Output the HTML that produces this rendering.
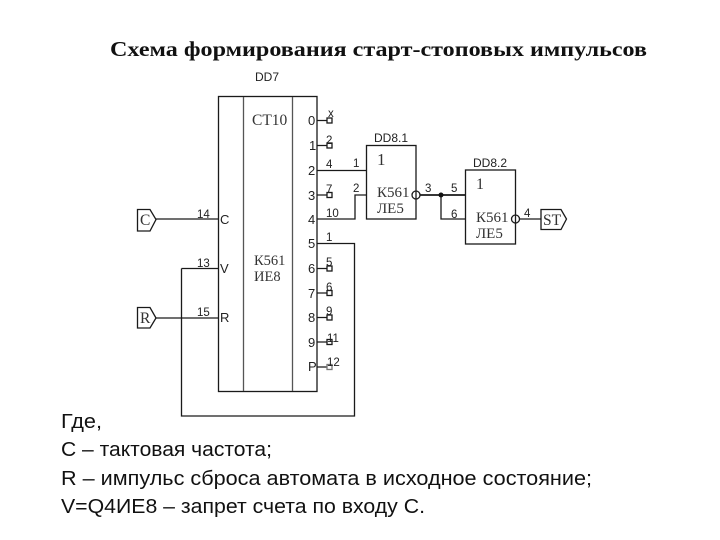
<!DOCTYPE html>
<html><head><meta charset="utf-8">
<style>html,body{margin:0;padding:0;background:#fff}svg{display:block}
.t{font-family:"Liberation Sans",sans-serif;font-size:11.5px;fill:#222}
.d{font-family:"Liberation Sans",sans-serif;font-size:12px;fill:#222}
.s{font-family:"Liberation Serif",serif;fill:#333}
.m{font-family:"Liberation Sans",sans-serif;font-size:13px;fill:#222}
</style></head><body>
<svg width="720" height="540" viewBox="0 0 720 540" xmlns="http://www.w3.org/2000/svg">
<text x="110" y="56" font-family="Liberation Serif,serif" font-weight="bold" font-size="21.5" fill="#111" textLength="537" lengthAdjust="spacingAndGlyphs">Схема формирования старт-стоповых импульсов</text>
<g fill="none" stroke="#1a1a1a" stroke-width="1.3">
<rect x="218.5" y="96.5" width="98.5" height="295"/>
<path d="M243.5 97V391M292.5 97V391" stroke="#555"/>
<path d="M156 219H218M156 318H218M181.5 268.5H218M181.5 268.5V416H354.5V243.5H317"/>
<path d="M317 170.5H366M317 219H355V195H366"/>
<path d="M317 120.5H327M317 145.5H327M317 195H327M317 268.5H327M317 293H327M317 317.5H327M317 342H327M317 367H327"/>
<rect x="327" y="118" width="5" height="5"/><rect x="327" y="143" width="5" height="5"/><rect x="327" y="192.500" width="5" height="5"/>
<rect x="327" y="266" width="5" height="5"/><rect x="327" y="290.500" width="5" height="5"/><rect x="327" y="315" width="5" height="5"/>
<rect x="327" y="339.500" width="5" height="5"/><rect x="327" y="364.500" width="5" height="5" stroke="#777"/>
<rect x="366.500" y="145.500" width="49.500" height="73.500"/>
<rect x="465.500" y="170" width="50" height="74"/>
<path d="M420 195H465" stroke-width="1.800"/>
<path d="M441 195V219H465M519 219H541"/>
<circle cx="416" cy="195" r="4"/>
<circle cx="515.500" cy="219" r="4"/>
<path d="M137.500 209.500H150L156 219.500L150 231H137.500Z"/>
<path d="M137.500 307.500H150L156 318L150 328H137.500Z"/>
<path d="M541 209.500H561L566.500 219L561 229.500H541Z"/>
</g>
<circle cx="441" cy="195" r="2.500" fill="#111"/>
<text class="d" x="255" y="81">DD7</text>
<text class="s" x="252" y="125" font-size="15.500">CT10</text>
<text class="s" x="254" y="265" font-size="14.500">К561</text>
<text class="s" x="254" y="281" font-size="14.500">ИЕ8</text>
<text class="m" x="308" y="125">0</text><text class="m" x="309" y="150">1</text><text class="m" x="308" y="175">2</text>
<text class="m" x="308" y="200">3</text><text class="m" x="308" y="224">4</text><text class="m" x="308" y="248">5</text>
<text class="m" x="308" y="273">6</text><text class="m" x="308" y="298">7</text><text class="m" x="308" y="322">8</text>
<text class="m" x="308" y="347">9</text><text class="m" x="308" y="371">P</text>
<text class="m" x="220" y="224">C</text><text class="m" x="220" y="273">V</text><text class="m" x="220" y="322">R</text>
<text class="t" x="197" y="218">14</text><text class="t" x="197" y="267">13</text><text class="t" x="197" y="316">15</text>
<text class="t" x="328" y="117" font-size="10">x</text><text class="t" x="326" y="144">2</text><text class="t" x="326" y="168">4</text>
<text class="t" x="326" y="193">7</text><text class="t" x="326" y="217">10</text><text class="t" x="326" y="241">1</text>
<text class="t" x="326" y="266">5</text><text class="t" x="326" y="291">6</text><text class="t" x="326" y="315">9</text>
<text class="t" x="327" y="342">11</text><text class="t" x="327" y="366">12</text>
<text class="t" x="353" y="167">1</text><text class="t" x="353" y="192">2</text>
<text class="t" x="425" y="192">3</text><text class="t" x="451" y="192">5</text><text class="t" x="451" y="218">6</text><text class="t" x="524" y="217">4</text>
<text class="d" x="374" y="142">DD8.1</text><text class="d" x="473" y="167">DD8.2</text>
<text class="s" x="377" y="165" font-size="17">1</text>
<text class="s" x="476" y="189" font-size="16">1</text>
<text class="s" x="377" y="197" font-size="15">К561</text><text class="s" x="377" y="213" font-size="15">ЛЕ5</text>
<text class="s" x="476" y="222" font-size="15">К561</text><text class="s" x="476" y="238" font-size="15">ЛЕ5</text>
<text class="s" x="140" y="225" font-size="15.500">C</text><text class="s" x="140" y="323" font-size="15.500">R</text><text class="s" x="543" y="225" font-size="15.500">ST</text>
<g font-family="Liberation Sans,sans-serif" font-size="20" fill="#111">
<text x="61" y="428" textLength="41" lengthAdjust="spacingAndGlyphs">Где,</text>
<text x="61" y="456" textLength="211" lengthAdjust="spacingAndGlyphs">C – тактовая частота;</text>
<text x="61" y="485" textLength="531" lengthAdjust="spacingAndGlyphs">R – импульс сброса автомата в исходное состояние;</text>
<text x="61" y="513" textLength="364" lengthAdjust="spacingAndGlyphs">V=Q4ИЕ8 – запрет счета по входу С.</text>
</g>
</svg>
</body></html>
